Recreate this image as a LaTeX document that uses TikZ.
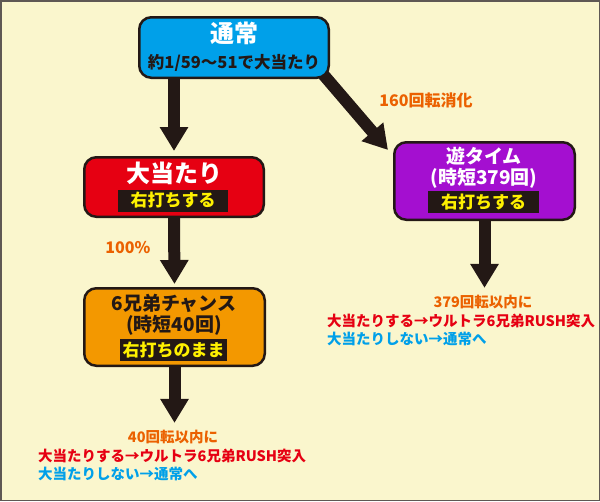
\documentclass[tikz,border=0pt]{standalone}
\usepackage{fontspec}
\setmainfont{Noto Sans CJK JP}
\usetikzlibrary{arrows.meta,backgrounds,calc}
\definecolor{bg}{HTML}{FAF6CD}
\definecolor{frame}{HTML}{5E5854}
\definecolor{cblue}{HTML}{00A0E9}
\definecolor{cred}{HTML}{E60012}
\definecolor{cpurple}{HTML}{A40FD0}
\definecolor{corange}{HTML}{F39800}
\definecolor{ctext}{HTML}{EB6100}
\definecolor{cdark}{HTML}{231815}
\definecolor{cyellow}{HTML}{FFF100}
\newcommand{\fs}[1]{\fontsize{#1}{#1}\selectfont\bfseries}
\begin{document}
\begin{tikzpicture}[x=1pt,y=-1pt,
  box/.style={draw=cdark, line width=2.5pt, rounded corners=12pt, inner sep=0pt, shape=rectangle},
  bigarrow/.style={draw=cdark, line width=12pt, -{Triangle[width=27pt,length=24pt]}},
  lab/.style={fill=cdark, text=cyellow, font=\fs{17}, inner sep=0pt, minimum height=22pt},
  ttl/.style={inner sep=0pt, font=\fs{#1}},
  note/.style={inner sep=0pt, font=\fs{14.5}},
]
\useasboundingbox (0,0) rectangle (600,501);
% boxes
\node[box, fill=cblue, minimum width=189.5pt, minimum height=60.5pt] (tsujo) at (234,47.5) {};
\node[box, fill=cred, minimum width=179.5pt, minimum height=59.5pt] (atari) at (174,187) {};
\node[box, fill=corange, minimum width=180.5pt, minimum height=77.5pt] (rokkyo) at (174.5,327) {};
\node[box, fill=cpurple, minimum width=180.5pt, minimum height=77.5pt] (yuu) at (484.5,181) {};
% box texts
\node[ttl=24, text=white] (tsujoA) at (234,33) {通常};
\node[ttl=16.5, text=cdark] (tsujoB) at (234,63) {約1/59～51で大当たり};
\node[ttl=24, text=white] (atariA) at (174,173) {大当たり};
\node[lab, minimum width=110pt] (atariL) at (173,200.5) {右打ちする};
\node[ttl=19, text=white] (yuuA) at (484,156) {遊タイム};
\node[ttl=19, text=white] (yuuB) at (484,178) {(時短379回)};
\node[lab, minimum width=111pt] (yuuL) at (483.5,202) {右打ちする};
\node[ttl=19, text=cdark] (rokA) at (174,303) {6兄弟チャンス};
\node[ttl=19, text=cdark] (rokB) at (174,325) {(時短40回)};
\node[lab, minimum width=107pt] (rokL) at (173.5,350) {右打ちのまま};
% edge labels
\node[ttl=16, text=ctext] (l160) at (426,100) {160回転消化};
\node[ttl=16, text=ctext] (l100) at (128,248) {100\%};
% notes
\node[note, text=ctext] (n1a) at (173,437) {40回転以内に};
\node[note, text=cred, anchor=west] (n1b) at (38,456) {大当たりする→ウルトラ6兄弟RUSH突入};
\node[note, text=cblue, anchor=west] (n1c) at (38,474) {大当たりしない→通常へ};
\node[note, text=ctext] (n2a) at (483,302) {379回転以内に};
\node[note, text=cred, anchor=west] (n2b) at (327,321) {大当たりする→ウルトラ6兄弟RUSH突入};
\node[note, text=cblue, anchor=west] (n2c) at (327,339) {大当たりしない→通常へ};
% background and arrows
\begin{scope}[on background layer]
\fill[bg] (0,0) rectangle (600,501);
\draw[frame, line width=1.5pt] (0.75,0.75) rectangle (599.25,500.25);
\draw[bigarrow, shorten >=5pt] (tsujo.south -| atari.north) -- (atari.north);
\draw[bigarrow] ($(tsujo.south east)+(-8,-6)$) -- ($(yuu.north west)+(-5,9)$);
\draw[bigarrow, shorten >=3pt] (atari.south) -- (rokkyo.north);
\draw[bigarrow, shorten >=7pt] (rokkyo.south) -- (n1a.north -| rokkyo.south);
\draw[bigarrow, shorten >=7pt] (yuu.south) -- (n2a.north -| yuu.south);
\end{scope}
\end{tikzpicture}
\end{document}
